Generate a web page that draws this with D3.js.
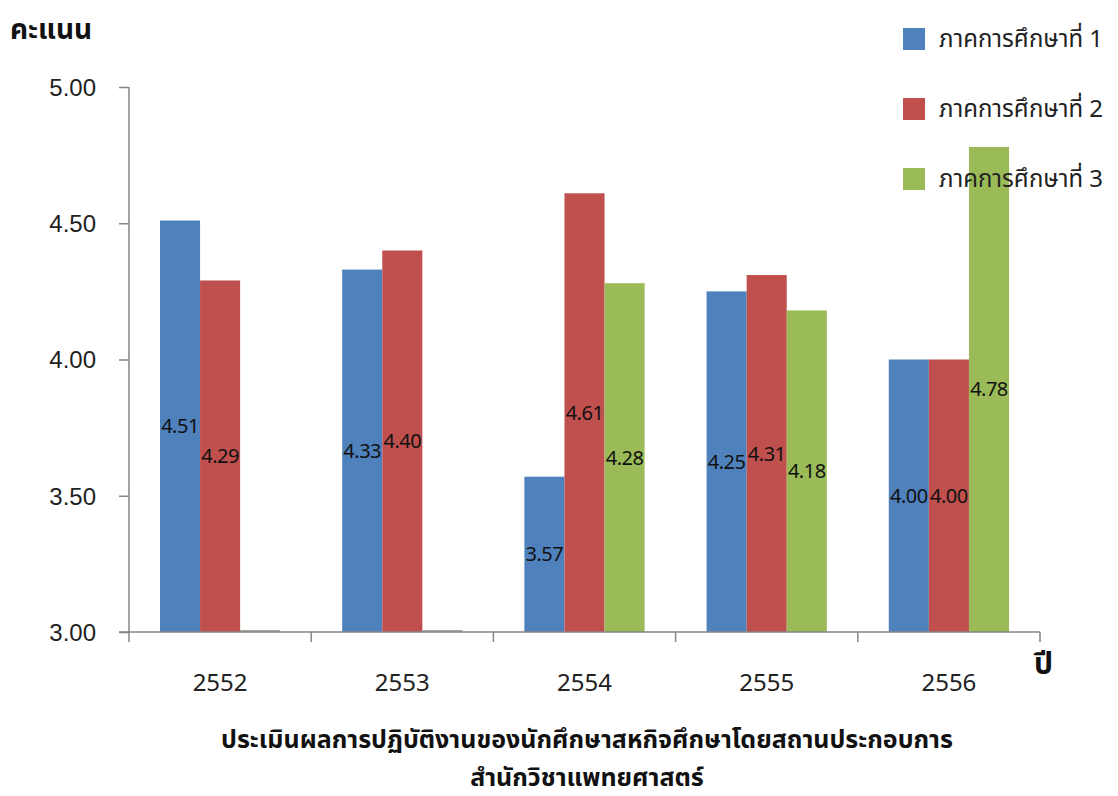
<!DOCTYPE html>
<html>
<head>
<meta charset="utf-8">
<script src="https://cdn.jsdelivr.net/npm/d3@7"></script>
<style>
  body { margin: 0; background: #fff; }
  svg { display: block; font-family: "Noto Sans Thai", "Noto Sans", "Open Sans", "DejaVu Sans", sans-serif; }
</style>
</head>
<body>
<script>
const years = ['2552', '2553', '2554', '2555', '2556']
const semesters = ['ภาคการศึกษาที่ 1', 'ภาคการศึกษาที่ 2', 'ภาคการศึกษาที่ 3']
const sem1 = [4.51, 4.33, 3.57, 4.25, 4.00]
const sem2 = [4.29, 4.40, 4.61, 4.31, 4.00]
const sem3 = [0, 0, 4.28, 4.18, 4.78]
const yTicks = [3.00, 3.50, 4.00, 4.50, 5.00]
const colors = ['#4F81BD', '#C0504D', '#9BBB59']

const width = 1118
const height = 796
const margin = {left: 129, right: 78, top: 87, bottom: 164}

const series = [sem1, sem2, sem3]

const svg = d3.select('body').append('svg').attr('width', width).attr('height', height)

const x0 = d3.scaleBand().domain(years)
	.range([margin.left, width - margin.right])
	.paddingInner(0.34).paddingOuter(0.17)
const x1 = d3.scaleBand().domain(d3.range(3)).range([0, x0.bandwidth()])
const y = d3.scaleLinear().domain([3, 5]).range([height - margin.bottom, margin.top])

const axisColor = '#868686'

// bars
const groups = svg.append('g').selectAll('g')
	.data(years)
	.enter().append('g')
		.attr('transform', (d) => 'translate(' + x0(d) + ',0)')

groups.selectAll('rect')
	.data((d, i) => series.map((s, k) => ({k: k, v: s[i]})))
	.enter().append('rect')
		.attr('x', (d) => x1(d.k))
		.attr('width', x1.bandwidth())
		.attr('y', (d) => d.v > 0 ? y(d.v) : y(3) - 2)
		.attr('height', (d) => d.v > 0 ? y(3) - y(d.v) : 2)
		.attr('fill', (d) => d.v > 0 ? colors[d.k] : '#a3a89a')

// y axis
const yAxis = svg.append('g')
	.attr('transform', 'translate(' + margin.left + ',0)')
	.call(d3.axisLeft(y).tickValues(yTicks).tickFormat(d3.format('.2f')).tickSize(10).tickPadding(23))
yAxis.select('.domain').attr('stroke', axisColor).attr('stroke-width', 1.5).attr('d', 'M0,' + y(5) + 'V' + (y(3) + 10))
yAxis.selectAll('.tick line').attr('stroke', axisColor).attr('stroke-width', 1.5)
yAxis.selectAll('.tick text').attr('font-size', 24).attr('fill', '#222').attr('dy', '0.35em')

// x axis
svg.append('line')
	.attr('x1', margin.left - 10).attr('x2', width - margin.right)
	.attr('y1', y(3)).attr('y2', y(3))
	.attr('stroke', axisColor).attr('stroke-width', 1.5)

const bounds = d3.range(years.length + 1).map((i) => margin.left + i * x0.step())
svg.append('g').selectAll('line')
	.data(bounds.slice(1))
	.enter().append('line')
		.attr('x1', (d) => d).attr('x2', (d) => d)
		.attr('y1', y(3)).attr('y2', y(3) + 10)
		.attr('stroke', axisColor).attr('stroke-width', 1.5)

svg.append('g').selectAll('text')
	.data(years)
	.enter().append('text')
		.attr('x', (d) => x0(d) + x0.bandwidth() / 2)
		.attr('y', 691)
		.attr('text-anchor', 'middle')
		.attr('font-size', 24)
		.attr('fill', '#222')
		.text((d) => d)

// data labels
groups.selectAll('text.lbl')
	.data((d, i) => series.map((s, k) => ({k: k, v: s[i]})).filter((d) => d.v > 0))
	.enter().append('text')
		.attr('class', 'lbl')
		.attr('x', (d) => x1(d.k) + x1.bandwidth() / 2)
		.attr('y', (d) => (y(d.v) + y(3)) / 2)
		.attr('dy', '0.35em')
		.attr('text-anchor', 'middle')
		.attr('font-size', 20)
		.attr('letter-spacing', -0.5)
		.attr('fill', '#111')
		.text((d) => d.v.toFixed(2))

// axis titles
svg.append('text').attr('x', 10).attr('y', 39)
	.attr('font-size', 28).attr('font-weight', 'bold').attr('fill', '#111')
	.text('คะแนน')
svg.append('text').attr('x', 1034).attr('y', 674)
	.attr('font-size', 30).attr('font-weight', 'bold').attr('fill', '#111')
	.text('ปี')

svg.append('text').attr('x', 587).attr('y', 748)
	.attr('text-anchor', 'middle')
	.attr('font-size', 25).attr('font-weight', 'bold').attr('fill', '#111')
	.text('ประเมินผลการปฏิบัติงานของนักศึกษาสหกิจศึกษาโดยสถานประกอบการ')
svg.append('text').attr('x', 587).attr('y', 786)
	.attr('text-anchor', 'middle')
	.attr('font-size', 25).attr('font-weight', 'bold').attr('fill', '#111')
	.text('สำนักวิชาแพทยศาสตร์')

// legend
const legend = svg.append('g').selectAll('g')
	.data(semesters)
	.enter().append('g')
		.attr('transform', (d, i) => 'translate(903,' + (28 + i * 70) + ')')
legend.append('rect').attr('width', 22).attr('height', 22).attr('fill', (d, i) => colors[i])
legend.append('text').attr('x', 36).attr('y', 11).attr('dy', '0.35em')
	.attr('font-size', 24).attr('fill', '#222')
	.text((d) => d)
</script>
</body>
</html>
